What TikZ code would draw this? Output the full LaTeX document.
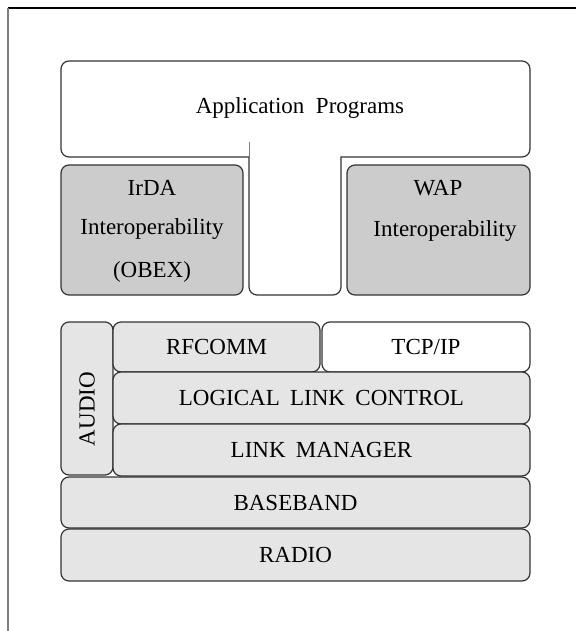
\documentclass[tikz,border=0pt]{standalone}
\usepackage{fontspec}
\setmainfont{Liberation Serif}
\definecolor{edge}{HTML}{333333}
\definecolor{darkfill}{HTML}{CCCCCC}
\definecolor{lightfill}{HTML}{E5E5E5}
\begin{document}
\begin{tikzpicture}[x=1pt,y=-1pt,
  every node/.style={font=\fontsize{23}{27}\selectfont, text=black},
  box/.style={draw=edge, line width=1.2pt, rounded corners=8pt, inner sep=0pt, outer sep=0pt},
  dbox/.style={box, fill=darkfill},
  lbox/.style={box, fill=lightfill},
  wbox/.style={box, fill=white},
  lbl/.style={inner sep=0pt, anchor=center}
]
\useasboundingbox (0,0) rectangle (576,631);
% outer frame (partial)
\draw[line width=2pt, black] (8,8) -- (576,8);
\draw[line width=2pt, gray] (8,8) -- (8,631);

% Application programs inverted-T shape
\draw[draw=edge, line width=1.2pt, fill=white]
  (61,110) [rounded corners=8pt] -- (61,61) -- (530,61) -- (530,157) [sharp corners] -- (341,157)
  [rounded corners=8pt] -- (341,295) -- (249,295) [sharp corners] -- (249,157)
  [rounded corners=8pt] -- (61,157) [sharp corners] -- cycle;
\draw[gray, line width=0.8pt] (249,142) -- (249,157);
\node[lbl] (app) at (300,108) {Application\hspace{0.5em}Programs};

% IrDA
\node[dbox, minimum width=182pt, minimum height=130pt] (irda) at (152,230) {};
\node[lbl] (irda1) at (152,188) {IrDA};
\node[lbl] (irda2) at (152,229) {Interoperability};
\node[lbl] (irda3) at (152,272) {(OBEX)};

% WAP
\node[dbox, minimum width=183pt, minimum height=130pt] (wap) at (438.5,230) {};
\node[lbl] (wap1) at (438,188) {WAP};
\node[lbl] (wap2) at (445,231) {Interoperability};

% lower stack
\node[lbox, minimum width=52pt, minimum height=153pt] (audiobox) at (87,398.5) {};
\node[lbl, rotate=90] (audio) at (87,409) {AUDIO};
\node[lbox, minimum width=207pt, minimum height=50pt] (rfcomm) at (216.5,347) {RFCOMM};
\node[wbox, minimum width=208pt, minimum height=50pt] (tcpip) at (426,347) {TCP/IP};
\node[lbox, minimum width=417pt, minimum height=52pt] (l2cap) at (321.5,398) {LOGICAL\hspace{0.45em}LINK\hspace{0.45em}CONTROL};
\node[lbox, minimum width=417pt, minimum height=52pt] (lm) at (321.5,450) {LINK\hspace{0.45em}MANAGER};
\node[lbox, minimum width=469pt, minimum height=51pt] (bb) at (295.5,502.5) {BASEBAND};
\node[lbox, minimum width=469pt, minimum height=52pt] (radio) at (295.5,555) {RADIO};
\end{tikzpicture}
\end{document}
